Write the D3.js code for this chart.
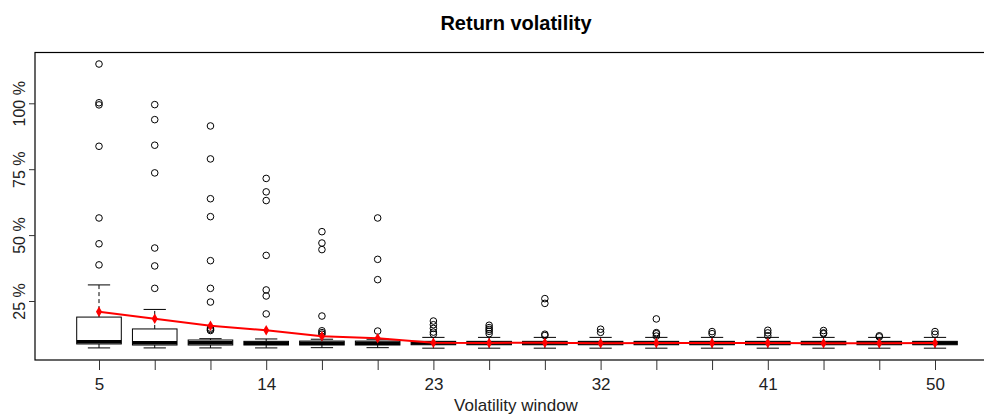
<!DOCTYPE html>
<html>
<head>
<meta charset="utf-8">
<script src="https://cdn.jsdelivr.net/npm/d3@7"></script>
<style>
  html, body { margin: 0; padding: 0; background: #fff; }
  svg { display: block; font-family: "Liberation Sans", Arial, sans-serif; }
</style>
</head>
<body>
<svg id="chart" width="984" height="416"></svg>
<script>
// Volatility windows (days) and the box statistics of each window, in %
const windows = [5, 8, 11, 14, 17, 20, 23, 26, 29, 32, 35, 38, 41, 44, 47, 50];
const whiskerLow  = [7.2, 7.2, 7.2, 7.2, 7.3, 7.3, 7.1, 7.1, 7.1, 7.1, 7.1, 7.1, 7.1, 7.1, 7.1, 7.1];
const q1          = [8.7, 8.3, 8.3, 8.3, 8.3, 8.3, 8.4, 8.4, 8.4, 8.4, 8.4, 8.4, 8.4, 8.4, 8.4, 8.4];
const median      = [9.5, 9.2, 9.2, 9.0, 9.0, 9.0, 9.1, 9.1, 9.1, 9.1, 9.1, 9.1, 9.1, 9.1, 9.1, 9.1];
const q3          = [18.9, 14.4, 10.2, 9.7, 9.8, 9.8, 9.7, 9.7, 9.7, 9.7, 9.7, 9.7, 9.7, 9.7, 9.7, 9.7];
const whiskerHigh = [31.1, 21.8, 10.7, 10.6, 10.5, 10.5, 11.2, 11.2, 11.2, 11.2, 11.2, 11.2, 11.2, 11.2, 11.2, 11.2];
const means       = [20.9, 18.3, 15.6, 13.9, 11.6, 10.9, 9.2, 9.1, 9.2, 9.0, 9.1, 9.1, 9.1, 9.0, 9.0, 9.1];
const outliers = [
  [114.9, 100.2, 99.4, 83.7, 56.5, 46.7, 38.7],
  [99.5, 93.8, 84.1, 73.6, 45.1, 38.3, 29.8],
  [91.4, 78.9, 63.8, 57.0, 40.3, 29.8, 24.6, 14.7, 14.2, 13.8],
  [71.5, 66.4, 63.1, 42.3, 29.2, 26.9, 20.1],
  [51.3, 47.0, 44.5, 19.3, 13.7, 13.0, 12.4],
  [56.5, 40.8, 33.1, 13.6],
  [17.4, 16.0, 14.6, 13.2, 12.4],
  [15.8, 14.9, 14.2, 13.5, 12.6],
  [25.9, 24.1, 12.4, 11.9],
  [14.3, 13.1],
  [18.2, 13.0, 12.6, 11.7],
  [13.4, 12.6],
  [13.9, 12.9, 11.8],
  [13.8, 12.9, 12.6],
  [11.8, 11.4],
  [13.4, 12.4]
];
const yTicks = [25, 50, 75, 100];
const xLabelled = [5, 14, 23, 32, 41, 50];

const svg = d3.select("#chart");
const frame = { left: 35, right: 997, top: 52.5, bottom: 360 };

const x = d3.scaleLinear().domain([5, 50]).range([99, 935]);
const y = d3.scaleLinear().domain([0, 100]).range([366.9, 103.3]);
const step = x(windows[1]) - x(windows[0]);
const boxW = step * 0.8;
const capW = boxW * 0.5;

const stats = windows.map((w, i) => ({
  w, lo: whiskerLow[i], q1: q1[i], med: median[i], q3: q3[i], hi: whiskerHigh[i],
  mean: means[i], out: outliers[i]
}));

const plot = svg.append("g");

// whiskers (dashed) and caps
const g = plot.selectAll("g.box").data(stats).join("g").attr("class", "box");
g.append("line")
  .attr("x1", d => x(d.w)).attr("x2", d => x(d.w))
  .attr("y1", d => y(d.q3)).attr("y2", d => y(d.hi))
  .attr("stroke", "#000").attr("stroke-dasharray", "4,3");
g.append("line")
  .attr("x1", d => x(d.w)).attr("x2", d => x(d.w))
  .attr("y1", d => y(d.q1)).attr("y2", d => y(d.lo))
  .attr("stroke", "#000").attr("stroke-dasharray", "4,3");
g.append("line")
  .attr("x1", d => x(d.w) - capW / 2).attr("x2", d => x(d.w) + capW / 2)
  .attr("y1", d => y(d.hi)).attr("y2", d => y(d.hi))
  .attr("stroke", "#000");
g.append("line")
  .attr("x1", d => x(d.w) - capW / 2).attr("x2", d => x(d.w) + capW / 2)
  .attr("y1", d => y(d.lo)).attr("y2", d => y(d.lo))
  .attr("stroke", "#000");
// box
g.append("rect")
  .attr("x", d => x(d.w) - boxW / 2).attr("width", boxW)
  .attr("y", d => y(d.q3)).attr("height", d => y(d.q1) - y(d.q3))
  .attr("fill", "#fff").attr("stroke", "#000");
// median
g.append("line")
  .attr("x1", d => x(d.w) - boxW / 2).attr("x2", d => x(d.w) + boxW / 2)
  .attr("y1", d => y(d.med)).attr("y2", d => y(d.med))
  .attr("stroke", "#000").attr("stroke-width", 3.5);
// outliers
g.selectAll("circle").data(d => d.out.map(v => ({ w: d.w, v }))).join("circle")
  .attr("cx", d => x(d.w)).attr("cy", d => y(d.v)).attr("r", 3.3)
  .attr("fill", "none").attr("stroke", "#000").attr("stroke-width", 1);

// mean line with markers
plot.append("path")
  .datum(stats)
  .attr("d", d3.line().x(d => x(d.w)).y(d => y(d.mean)))
  .attr("fill", "none").attr("stroke", "#ff0000").attr("stroke-width", 2);
plot.selectAll("path.mean").data(stats).join("path").attr("class", "mean")
  .attr("d", d3.symbol(d3.symbolDiamond, 32))
  .attr("transform", d => `translate(${x(d.w)},${y(d.mean)})`)
  .attr("fill", "#ff0000");

// frame
svg.append("rect")
  .attr("x", frame.left).attr("y", frame.top)
  .attr("width", frame.right - frame.left).attr("height", frame.bottom - frame.top)
  .attr("fill", "none").attr("stroke", "#000").attr("stroke-width", 1.2);

// x axis
const xAxis = svg.append("g").attr("transform", `translate(0,${frame.bottom})`)
  .call(d3.axisBottom(x).tickValues(windows).tickSize(10).tickSizeOuter(0)
    .tickFormat(d => xLabelled.includes(d) ? d : ""));
xAxis.select(".domain").remove();
xAxis.selectAll(".tick line").attr("stroke", "#333");
xAxis.selectAll(".tick text")
  .attr("y", 30).attr("dy", 0)
  .attr("font-size", 17).attr("fill", "#222")
  .attr("font-family", "Liberation Sans, Arial, sans-serif");

// y axis
const yAxis = svg.append("g").attr("transform", `translate(${frame.left},0)`)
  .call(d3.axisLeft(y).tickValues(yTicks).tickSize(6).tickSizeOuter(0)
    .tickFormat(d => d + " %"));
yAxis.select(".domain").remove();
yAxis.selectAll(".tick line").attr("stroke", "#333");
yAxis.selectAll(".tick text")
  .attr("x", 0).attr("dy", 0)
  .attr("transform", "translate(-10,0) rotate(-90)")
  .attr("text-anchor", "middle")
  .attr("font-size", 16).attr("fill", "#222")
  .attr("font-family", "Liberation Sans, Arial, sans-serif");

// titles
svg.append("text")
  .attr("x", (frame.left + frame.right) / 2).attr("y", 30)
  .attr("text-anchor", "middle").attr("font-weight", "bold").attr("font-size", 20)
  .attr("fill", "#000").text("Return volatility");
svg.append("text")
  .attr("x", (frame.left + frame.right) / 2).attr("y", 411)
  .attr("text-anchor", "middle").attr("font-size", 17)
  .attr("fill", "#222").text("Volatility window");
</script>
</body>
</html>
